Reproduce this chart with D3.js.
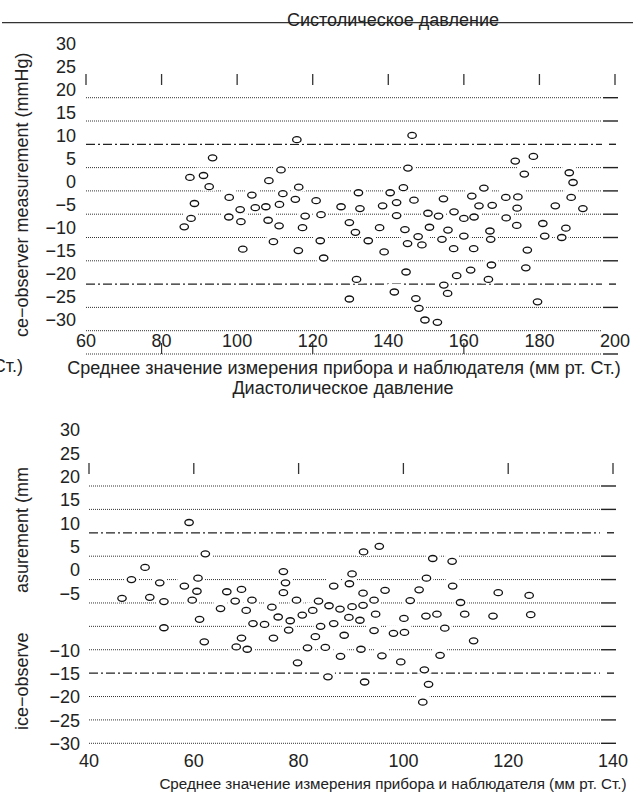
<!DOCTYPE html>
<html>
<head>
<meta charset="utf-8">
<script src="https://cdn.jsdelivr.net/npm/d3@7"></script>
<style>
body { margin: 0; background: #fff; }
svg text { font-family: "Liberation Sans", Arial, sans-serif; fill: #222; }
</style>
</head>
<body>
<div id="chart"></div>
<script>
const width = 633;
const height = 796;

// systolic: mean of device and observer vs difference
const sysMean = [115.8, 93.5, 87.5, 91.1, 92.6, 111.6, 108.4, 116.3, 97.9, 103.9, 112.1, 115.4, 120.9, 127.5,
    88.7, 100.8, 104.8, 107.6, 111.2, 87.8, 86.0, 97.8, 101.0, 108.2, 111.1, 118.0, 122.2, 117.3, 129.7,
    109.6, 122.0, 101.5, 116.2, 122.9, 129.7,
    146.3, 145.2, 173.6, 178.4, 176.0, 187.9, 188.9, 188.4, 191.5, 184.2, 132.1, 132.5, 140.5, 144.0,
    138.5, 142.2, 146.8, 142.2, 154.6, 162.1, 165.3, 164.0, 167.5, 171.1, 174.3, 174.1, 150.5, 153.3,
    157.4, 160.0, 162.7, 171.2, 174.0, 131.3, 137.7, 134.7, 144.4, 147.9, 145.1, 148.9, 150.9, 155.8,
    154.2, 160.0, 166.9, 167.1, 157.3, 162.6, 138.9, 180.9, 181.4, 185.9, 187.0, 176.8, 176.4, 167.3,
    161.8, 158.1, 144.7, 131.6, 166.5, 154.7, 141.6, 155.7, 147.3, 148.1, 179.5, 149.7, 153.0];
const sysDiff = [11.0, 7.1, 2.9, 3.3, 0.9, 4.5, 2.2, 0.8, -1.4, -0.9, -0.6, -1.8, -2.1, -3.4,
    -2.7, -4.0, -3.6, -3.4, -2.9, -5.9, -7.7, -5.6, -6.6, -6.3, -7.5, -5.4, -5.1, -7.9, -6.8,
    -10.9, -10.7, -12.5, -12.8, -14.4, -23.2,
    11.9, 4.9, 6.4, 7.4, 3.6, 3.9, 1.8, -1.4, -3.8, -3.2, -0.4, -3.8, -0.4, 0.7,
    -3.2, -2.5, -2.0, -5.3, -1.7, -1.1, 0.6, -3.2, -3.1, -1.4, -1.3, -3.7, -4.8, -5.4,
    -4.5, -5.9, -5.6, -5.8, -7.4, -8.9, -7.9, -10.7, -8.3, -9.8, -11.3, -11.6, -7.8, -8.4,
    -10.4, -9.7, -8.6, -10.4, -12.4, -12.4, -13.1, -7.0, -9.7, -10.0, -8.0, -12.7, -16.5, -15.9,
    -17.0, -18.2, -17.4, -19.0, -19.0, -20.2, -21.7, -22.0, -23.1, -25.2, -23.8, -27.7, -28.2];

// diastolic
const diaMean = [59.1, 62.2, 50.7, 48.1, 53.5, 58.2, 60.8, 60.6, 46.3, 51.6, 54.3, 59.7, 54.3, 61.1, 62.0,
    66.3, 69.1, 67.9, 71.1, 65.1, 70.0, 71.3, 73.5, 69.1, 68.1, 70.2, 77.1, 77.5, 77.1, 74.9, 79.6,
    76.1, 78.4, 78.1, 75.2, 83.8, 82.7, 80.7, 84.2, 83.2, 81.7, 85.1, 79.8, 85.6, 86.7, 85.8,
    95.4, 92.4, 105.6, 109.3, 90.2, 104.4, 89.7, 92.3, 96.5, 103.0, 109.4, 118.1, 124.0, 87.9, 90.2,
    92.3, 94.4, 101.3, 110.9, 89.6, 91.7, 94.7, 100.1, 104.3, 106.4, 111.7, 117.1, 124.3, 86.7, 88.7,
    94.4, 98.1, 100.2, 107.9, 113.4, 88.0, 91.9, 95.9, 99.5, 107.0, 92.6, 104.0, 104.8, 103.7];
const diaDiff = [17.2, 10.5, 7.6, 5.0, 4.3, 3.6, 5.3, 2.5, 1.0, 1.2, 0.3, 0.6, -5.3, -3.5, -8.3,
    2.4, 2.9, 0.4, 0.6, -1.2, -1.6, -4.4, -4.6, -7.5, -9.4, -9.9, 6.7, 4.3, 2.2, -0.9, 0.6,
    -3.0, -3.8, -5.8, -7.5, 0.4, -1.6, -2.6, -5.0, -7.2, -9.6, -9.5, -12.8, -15.8, 3.6, -0.6,
    12.1, 10.9, 9.5, 8.9, 6.2, 5.3, 4.1, 2.1, 2.7, 2.8, 3.6, 2.2, 1.6, -1.3, -0.8,
    -0.5, 0.6, 0.5, 0.1, -3.1, -3.7, -2.4, -3.3, -2.8, -2.4, -2.4, -2.8, -2.5, -4.4, -6.9,
    -5.9, -6.5, -6.3, -5.4, -8.1, -11.4, -9.9, -11.3, -12.6, -11.2, -16.9, -14.3, -17.4, -21.2];

const sysXTicks = [60, 80, 100, 120, 140, 160, 180, 200];
const sysXInner = [80, 120, 160];
const sysYTicks = [30, 25, 20, 15, 10, 5, 0, -5, -10, -15, -20, -25, -30];
const sysGrid = [20, 15, 5, 0, -5, -10, -15, -25, -30, -35];
const sysLimits = [10, -20];
const sysRight = [20, 15, 5, 0, -5, -10, -15, -25, -35];

const diaXTicks = [40, 60, 80, 100, 120, 140];
const diaYTicks = [30, 25, 20, 15, 10, 5, 0, -5, -10, -15, -20, -25, -30];
const diaGrid = [25, 20, 10, 5, 0, -5, -10, -20, -25, -30];
const diaLimits = [15, -15];
const diaRight = [25, 20, 10, 5, 0, -5, -10, -20, -25, -30];

const xLabelText = "Среднее значение измерения прибора и наблюдателя (мм рт. Ст.)";

const svg = d3.select("#chart")
    .append("svg")
    .attr("width", width)
    .attr("height", height)
    .style("background", "#fff");

const panels = [
    {
        mean: sysMean, diff: sysDiff,
        xTicks: sysXTicks, xInner: sysXInner, yTicks: sysYTicks,
        grid: sysGrid, limits: sysLimits, right: sysRight,
        x: d3.scaleLinear().domain([60, 200]).range([86, 615]),
        y: d3.scaleLinear().domain([20, -35]).range([97.7, 354]),
        yLab: d3.scaleLinear().domain([30, -30]).range([43.3, 320]),
        gridRight: 602, topTick: [74, 85], innerTick: [343, 354],
        xLabelY: 347, yLabelX: 76
    },
    {
        mean: diaMean, diff: diaDiff,
        xTicks: diaXTicks, xInner: [], yTicks: diaYTicks,
        grid: diaGrid, limits: diaLimits, right: diaRight,
        x: d3.scaleLinear().domain([40, 140]).range([89, 613]),
        y: d3.scaleLinear().domain([25, -30]).range([486, 743.3]),
        yLab: d3.scaleLinear().domain([30, -5, -10, -30]).range([430, 593.3, 650.7, 743.3]),
        gridRight: 600, topTick: [463, 474], innerTick: null,
        xLabelY: 767, yLabelX: 80
    }
];

panels.forEach(drawPanel);

function drawPanel(p) {
    const g = svg.append("g");
    const x0 = p.x.range()[0];
    const x1 = p.x.range()[1];

    g.selectAll(".grid")
        .data(p.grid)
        .enter().append("line")
        .attr("x1", x0).attr("x2", p.gridRight)
        .attr("y1", d => p.y(d)).attr("y2", d => p.y(d))
        .attr("stroke", "#333")
        .attr("stroke-width", 1)
        .attr("stroke-dasharray", "1,1");

    g.selectAll(".limit")
        .data(p.limits)
        .enter().append("line")
        .attr("x1", x0).attr("x2", p.gridRight)
        .attr("y1", d => p.y(d)).attr("y2", d => p.y(d))
        .attr("stroke", "#222")
        .attr("stroke-width", 1.2)
        .attr("stroke-dasharray", "9,3,2,3");

    // short ticks at the right end
    g.selectAll(".rtick")
        .data(p.right)
        .enter().append("line")
        .attr("x1", p.gridRight + 1).attr("x2", x1 + 3)
        .attr("y1", d => p.y(d)).attr("y2", d => p.y(d))
        .attr("stroke", "#222")
        .attr("stroke-width", 1.4);

    g.selectAll(".rlim")
        .data(p.limits)
        .enter().append("line")
        .attr("x1", x1 - 6).attr("x2", x1 + 1)
        .attr("y1", d => p.y(d)).attr("y2", d => p.y(d))
        .attr("stroke", "#222")
        .attr("stroke-width", 1.4);

    g.selectAll(".ttick")
        .data(p.xTicks)
        .enter().append("line")
        .attr("x1", d => p.x(d)).attr("x2", d => p.x(d))
        .attr("y1", p.topTick[0]).attr("y2", p.topTick[1])
        .attr("stroke", "#333")
        .attr("stroke-width", 1.3);

    if (p.innerTick) {
        g.selectAll(".itick")
            .data(p.xInner)
            .enter().append("line")
            .attr("x1", d => p.x(d)).attr("x2", d => p.x(d))
            .attr("y1", p.innerTick[0]).attr("y2", p.innerTick[1])
            .attr("stroke", "#333")
            .attr("stroke-width", 1.2);
    }

    g.selectAll(".xlab")
        .data(p.xTicks)
        .enter().append("text")
        .attr("x", d => p.x(d))
        .attr("y", p.xLabelY)
        .attr("text-anchor", "middle")
        .style("font-size", "18px")
        .text(d => d);

    g.selectAll(".ylab")
        .data(p.yTicks)
        .enter().append("text")
        .attr("x", p.yLabelX)
        .attr("y", d => p.yLab(d))
        .attr("dy", "0.36em")
        .attr("text-anchor", "end")
        .style("font-size", "18px")
        .text(d => d < 0 ? "\u2212" + Math.abs(d) : d);

    const pts = p.mean.map((m, i) => ({ m: m, d: p.diff[i] }));

    // white boxes behind the markers break the dotted lines
    g.selectAll(".knock")
        .data(pts)
        .enter().append("rect")
        .attr("x", d => p.x(d.m) - 7)
        .attr("y", d => p.y(d.d) - 8)
        .attr("width", 14)
        .attr("height", 12)
        .attr("fill", "#fff");

    g.selectAll(".pt")
        .data(pts)
        .enter().append("ellipse")
        .attr("cx", d => p.x(d.m))
        .attr("cy", d => p.y(d.d))
        .attr("rx", 4.2)
        .attr("ry", 3)
        .attr("fill", "#fff")
        .attr("stroke", "#111")
        .attr("stroke-width", 1.3);
}

// separator across the top with the first title on it
svg.append("line")
    .attr("x1", 2).attr("x2", width)
    .attr("y1", 22.7).attr("y2", 22.7)
    .attr("stroke", "#333")
    .attr("stroke-width", 1.2);

svg.append("text")
    .attr("x", 393).attr("y", 26)
    .attr("text-anchor", "middle")
    .style("font-size", "18px")
    .text("Систолическое давление");

svg.append("text")
    .attr("x", 344).attr("y", 374)
    .attr("text-anchor", "middle")
    .style("font-size", "18px")
    .text(xLabelText);

svg.append("text")
    .attr("x", 23).attr("y", 372)
    .attr("text-anchor", "end")
    .style("font-size", "18px")
    .text("Ст.)");

svg.append("text")
    .attr("transform", "translate(28,337) rotate(-90)")
    .style("font-size", "18px")
    .text("ce\u2212observer measurement (mmHg)");

svg.append("text")
    .attr("x", 343).attr("y", 394)
    .attr("text-anchor", "middle")
    .style("font-size", "18px")
    .text("Диастолическое давление");

svg.append("text")
    .attr("transform", "translate(28,593) rotate(-90)")
    .style("font-size", "18px")
    .text("asurement (mm");

svg.append("text")
    .attr("transform", "translate(28,730) rotate(-90)")
    .style("font-size", "18px")
    .text("ice\u2212observe");

svg.append("text")
    .attr("x", 393).attr("y", 789)
    .attr("text-anchor", "middle")
    .style("font-size", "15.2px")
    .text(xLabelText);
</script>
</body>
</html>
